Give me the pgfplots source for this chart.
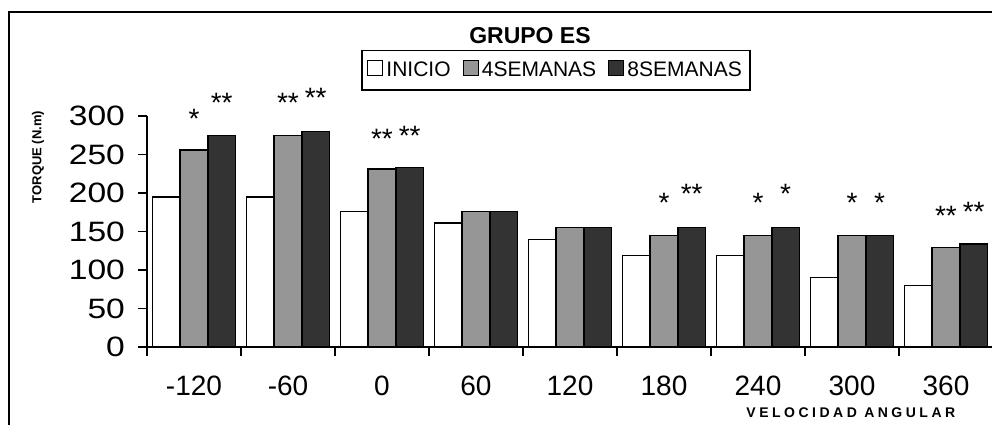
\documentclass[border=0pt]{standalone}
\usepackage{fontspec}
\setmainfont{Liberation Sans}
\newfontfamily\spacedfont[LetterSpace=25]{Liberation Sans}
\newfontfamily\widefont[FakeStretch=1.2]{Liberation Sans}
\usepackage{pgfplots}
\pgfplotsset{compat=1.18}
\definecolor{gris}{RGB}{150,150,150}
\definecolor{oscuro}{RGB}{51,51,51}

\begin{document}
\begin{tikzpicture}[star/.style={font=\fontsize{14}{16}\selectfont, anchor=base, yshift=-8pt, inner sep=0pt}]
\begin{axis}[
  at={(0pt,0pt)}, anchor=south west,
  scale only axis, width=423pt, height=115.5pt,
  ybar=0pt, bar width=13.85pt,
  xmin=-0.5, xmax=8.5, ymin=0, ymax=300,
  axis x line*=bottom, axis y line*=left,
  axis line style={line width=0.7pt, -},
  tick style={line width=0.7pt, black},
  tick align=outside, major tick length=4.5pt,
  clip=false,
  /pgf/number format/assume math mode=true,
  xticklabel style={font=\fontsize{14}{16}\selectfont},
  yticklabel style={font=\fontsize{14}{16}\widefont, xshift=-3pt},
  ytick={0,50,...,300},
  xtick={-0.5,0.5,...,8.5}, xticklabels={},
  extra x ticks={0,1,...,8},
  extra x tick labels={-120,-60,0,60,120,180,240,300,360},
  extra x tick style={major tick length=0pt, xticklabel style={yshift=-11pt}},
  ylabel={TORQUE (N.m)},
  every axis y label/.style={at={(rel axis cs:-0.1288,0.8225)}, rotate=90, anchor=center, font=\bfseries\fontsize{6.5}{8}\selectfont},
  xlabel={VELOCIDAD ANGULAR},
  every axis x label/.style={at={(rel axis cs:0.832,-0.2857)}, anchor=center, font=\fontsize{7}{8}\spacedfont\bfseries},
  legend columns=-1,
  legend style={at={(0.4835,1.1976)}, anchor=center, draw=black, line width=0.8pt,
    font=\fontsize{10.5}{12}\selectfont, inner xsep=2.5pt, inner ysep=3.5pt,
    nodes={inner xsep=1.5pt},
    /tikz/every even column/.append style={column sep=4.5pt}},
  legend image code/.code={\draw[#1, line width=0.6pt] (0pt,-2.4pt) rectangle (7.5pt,5.1pt);},
]
\addplot[fill=white, draw=black, line width=0.7pt] coordinates
  {(0,195) (1,195) (2,176) (3,161) (4,140) (5,119) (6,119) (7,90) (8,80)};
\addlegendentry{INICIO}
\addplot[fill=gris, draw=black, line width=0.7pt] coordinates
  {(0,256) (1,275) (2,231) (3,176) (4,155) (5,145) (6,145) (7,145) (8,129)};
\addlegendentry{4SEMANAS}
\addplot[fill=oscuro, draw=black, line width=0.7pt] coordinates
  {(0,275) (1,280) (2,233) (3,176) (4,155) (5,155) (6,155) (7,145) (8,134)};
\addlegendentry{8SEMANAS}

% title
\node[anchor=center, font=\bfseries\fontsize{11.5}{13}\selectfont] at (rel axis cs:0.4527,1.3476) {GRUPO ES};

% significance marks
\node[star] at (axis cs:0,304.5) {*};
\node[star] at (axis cs:0.2947,325.3) {**};
\node[star] at (axis cs:1,324.7) {**};
\node[star] at (axis cs:1.2947,331.2) {**};
\node[star] at (axis cs:2,278.6) {**};
\node[star] at (axis cs:2.2947,282.5) {**};
\node[star] at (axis cs:5,196) {*};
\node[star] at (axis cs:5.2947,206.5) {**};
\node[star] at (axis cs:6,196) {*};
\node[star] at (axis cs:6.2947,206.5) {*};
\node[star] at (axis cs:7,195) {*};
\node[star] at (axis cs:7.2947,195) {*};
\node[star] at (axis cs:8,179) {**};
\node[star] at (axis cs:8.2947,184.4) {**};
\end{axis}
\draw[line width=1pt] (-69pt,-41.5pt) rectangle (426.5pt,167.5pt);
\pgfresetboundingbox
\path[use as bounding box] (-73.5pt,-38.5pt) rectangle (422.5pt,173.5pt);
\end{tikzpicture}
\end{document}
